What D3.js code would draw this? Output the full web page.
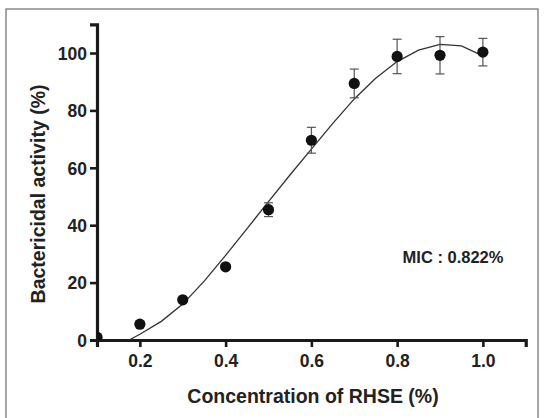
<!DOCTYPE html>
<html>
<head>
<meta charset="utf-8">
<script src="https://cdn.jsdelivr.net/npm/d3@7"></script>
<style>
  body { margin: 0; background: #fff; }
  svg text { font-family: "Liberation Sans", Arial, sans-serif; font-weight: bold; fill: #222; }
</style>
</head>
<body>
<svg id="chart" width="544" height="418"></svg>
<script>
// measured points
var conc = [0.1, 0.2, 0.3, 0.4, 0.5, 0.6, 0.7, 0.8, 0.9, 1.0];
var activity = [1, 5.5, 14, 25.5, 45.4, 69.6, 89.4, 98.8, 99.2, 100.3];
var errs = [0, 0, 0, 0, 2.4, 4.5, 5, 6, 6.5, 4.8];

// fitted curve
var fitX = [0.175, 0.2, 0.25, 0.3, 0.35, 0.4, 0.45, 0.5, 0.55, 0.6, 0.65, 0.7, 0.75, 0.8, 0.85, 0.9, 0.95, 1.0];
var fitY = [0, 2, 6.5, 12.5, 20.5, 29.5, 38.8, 48.2, 57.5, 66.5, 75.5, 84, 91.2, 97, 101, 103, 102.5, 99];

var xTicks = [0.2, 0.4, 0.6, 0.8, 1.0];
var yTicks = [0, 20, 40, 60, 80, 100];

var margin = {top: 24, left: 97, right: 18, bottom: 78};

var svg = d3.select("#chart");

// outer frame
svg.append("rect")
    .attr("x", 6).attr("y", 9)
    .attr("width", 532).attr("height", 420)
    .attr("fill", "none")
    .attr("stroke", "#8a8a8a")
    .attr("stroke-width", 1.5);

var x = d3.scaleLinear().domain([0.1, 1.1]).range([margin.left, 525.75]);
var y = d3.scaleLinear().domain([0, 110]).range([340, 340 - 110 * 2.87]);

// clip for points at the axes
svg.append("clipPath").attr("id", "plot")
  .append("rect")
    .attr("x", x(0.1)).attr("y", 0)
    .attr("width", 500).attr("height", y(0));

// axes
var xAxis = svg.append("g")
    .attr("transform", "translate(0," + y(0) + ")")
    .call(d3.axisBottom(x).tickValues(xTicks).tickFormat(d3.format(".1f")).tickSizeOuter(0).tickSize(7).tickPadding(8));

var yAxis = svg.append("g")
    .attr("transform", "translate(" + x(0.1) + ",0)")
    .call(d3.axisLeft(y).tickValues(yTicks).tickSizeOuter(0).tickSize(7).tickPadding(3));

[xAxis, yAxis].forEach(function(a) {
  a.select(".domain").attr("stroke", "#1a1a1a").attr("stroke-width", 3.2);
  a.selectAll(".tick line").attr("stroke", "#1a1a1a").attr("stroke-width", 2.6);
  a.selectAll(".tick text").attr("fill", "#222").style("font-size", "17.5px").style("font-weight", "bold");
});
yAxis.selectAll(".tick text").attr("dy", "0.36em");

// fitted curve
var line = d3.line()
    .x(function(d, i) { return x(fitX[i]); })
    .y(function(d) { return y(d); });

svg.append("path")
    .datum(fitY)
    .attr("d", line)
    .attr("fill", "none")
    .attr("stroke", "#333")
    .attr("stroke-width", 1.3);

// error bars
var eb = svg.append("g").attr("stroke", "#555").attr("stroke-width", 1.2);
conc.forEach(function(c, i) {
  if (!errs[i]) return;
  var cx = x(c), lo = y(activity[i] - errs[i]), hi = y(activity[i] + errs[i]);
  eb.append("line").attr("x1", cx).attr("x2", cx).attr("y1", lo).attr("y2", hi);
  eb.append("line").attr("x1", cx - 4.5).attr("x2", cx + 4.5).attr("y1", lo).attr("y2", lo);
  eb.append("line").attr("x1", cx - 4.5).attr("x2", cx + 4.5).attr("y1", hi).attr("y2", hi);
});

// points
svg.append("g").attr("clip-path", "url(#plot)")
  .selectAll("circle")
  .data(conc)
  .enter().append("circle")
    .attr("cx", function(d) { return x(d); })
    .attr("cy", function(d, i) { return y(activity[i]); })
    .attr("r", 5.6)
    .attr("fill", "#111");

// labels
svg.append("text")
    .attr("x", 313).attr("y", 403)
    .attr("text-anchor", "middle")
    .style("font-size", "19.5px")
    .text("Concentration of RHSE (%)");

svg.append("text")
    .attr("transform", "translate(45,194) rotate(-90)")
    .attr("text-anchor", "middle")
    .style("font-size", "19.5px")
    .text("Bactericidal activity (%)");

svg.append("text")
    .attr("x", 453).attr("y", 263)
    .attr("text-anchor", "middle")
    .style("font-size", "16.5px")
    .text("MIC : 0.822%");
</script>
</body>
</html>
